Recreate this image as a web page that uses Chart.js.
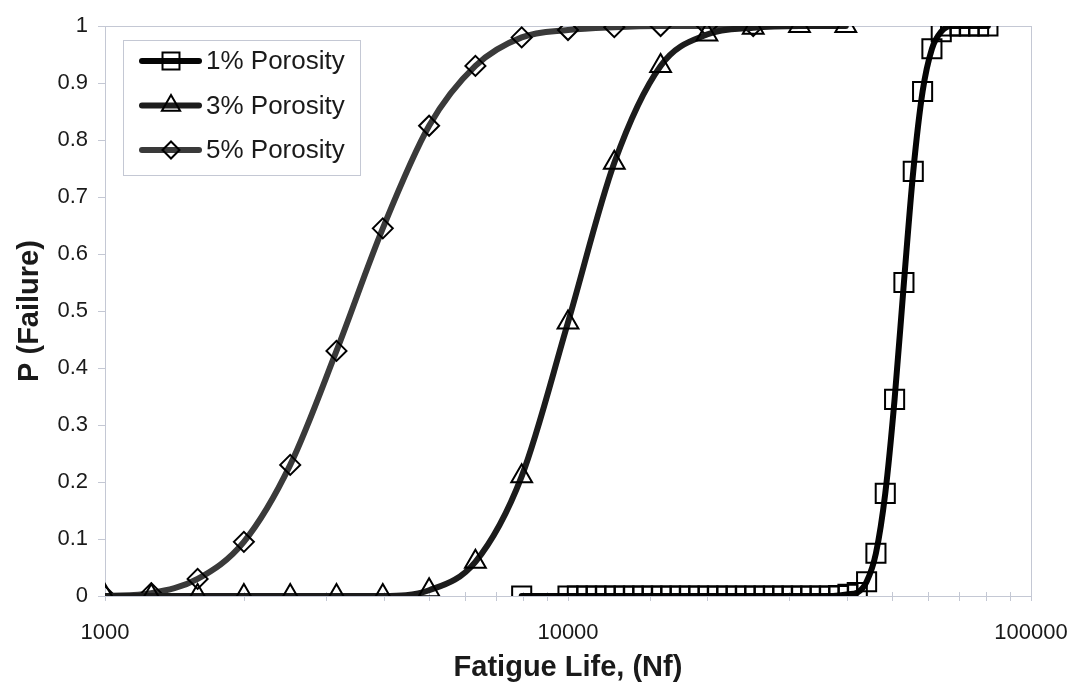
<!DOCTYPE html>
<html>
<head>
<meta charset="utf-8">
<title>Fatigue life distribution</title>
<script src="https://cdn.jsdelivr.net/npm/chart.js@4/dist/chart.umd.min.js"></script>
<style>
  html, body { margin: 0; padding: 0; background: #ffffff; }
  #wrap { width: 1077px; height: 688px; }
</style>
</head>
<body>
<div id="wrap"><canvas id="chart" width="1077" height="688"></canvas></div>
<script>
// Fatigue life (cycles) and cumulative failure probability for each porosity level
const lifeTickLabels = [1000, 10000, 100000];

const life1 = [7943, 10000, 10475, 10973, 11494, 12040, 12612, 13211, 13838, 14495, 15184,
  15905, 16661, 17452, 18281, 19149, 20059, 21012, 22010, 23055, 24151, 25298, 26499, 27758,
  29077, 30458, 31904, 33420, 35007, 36670, 38412, 40237, 42148, 44150, 46247, 48444, 50745,
  53155, 55680, 58325, 61095, 63997, 67037, 70221, 73557, 77051, 80711];
const pFail1 = [0, 0, 0, 0, 0, 0, 0, 0, 0, 0, 0,
  0, 0, 0, 0, 0, 0, 0, 0, 0, 0, 0, 0, 0,
  0, 0, 0, 0, 0, 0, 0.001, 0.003, 0.006, 0.025, 0.075, 0.18, 0.345,
  0.55, 0.745, 0.885, 0.96, 0.99, 1, 1, 1, 1, 1];

const life3 = [1000, 1259, 1585, 1995, 2512, 3162, 3981, 5012, 6310, 7943, 10000, 12589,
  15849, 19953, 25119, 31623, 39811];
const pFail3 = [0, 0, 0, 0, 0, 0, 0, 0.01, 0.06, 0.21, 0.48, 0.76,
  0.93, 0.985, 0.997, 1, 1];

const life5 = [1000, 1259, 1585, 1995, 2512, 3162, 3981, 5012, 6310, 7943, 10000, 12589,
  15849, 19953, 25119];
const pFail5 = [0, 0.005, 0.03, 0.095, 0.23, 0.43, 0.645, 0.825, 0.93, 0.98, 0.993, 0.998,
  1, 1, 1];

const seriesNames = ['1% Porosity', '3% Porosity', '5% Porosity'];

const FONT = '"Liberation Sans", Arial, Helvetica, sans-serif';
const TEXT = '#1a1a1a';
const FRAME = '#c4c8d4';

function toPoints(xs, ys) {
  return xs.map((x, i) => ({ x: x, y: ys[i] }));
}

// Outline-only marker shapes, shared by the plot and the legend
function drawMarker(ctx, style, r, x, y) {
  ctx.beginPath();
  if (style === 'rect') {
    const s = Math.SQRT1_2 * r;
    ctx.rect(x - s, y - s, 2 * s, 2 * s);
  } else if (style === 'triangle') {
    ctx.moveTo(x, y - r);
    ctx.lineTo(x + 0.866 * r, y + 0.5 * r);
    ctx.lineTo(x - 0.866 * r, y + 0.5 * r);
    ctx.closePath();
  } else {
    ctx.moveTo(x - r, y);
    ctx.lineTo(x, y - r);
    ctx.lineTo(x + r, y);
    ctx.lineTo(x, y + r);
    ctx.closePath();
  }
  ctx.stroke();
}

// Plot frame and the small axis tick marks
const frameAndTicks = {
  id: 'frameAndTicks',
  beforeDatasetsDraw(chart) {
    const { ctx, chartArea: a, scales } = chart;
    ctx.save();
    ctx.strokeStyle = FRAME;
    ctx.lineWidth = 1;
    ctx.strokeRect(Math.round(a.left) + 0.5, Math.round(a.top) + 0.5,
      Math.round(a.right - a.left), Math.round(a.bottom - a.top));
    ctx.beginPath();
    scales.y.ticks.forEach(t => {
      const py = Math.round(scales.y.getPixelForValue(t.value)) + 0.5;
      ctx.moveTo(a.left - 7, py);
      ctx.lineTo(a.left, py);
    });
    scales.x.ticks.forEach(t => {
      const px = Math.round(scales.x.getPixelForValue(t.value)) + 0.5;
      ctx.moveTo(px, a.bottom - 4);
      ctx.lineTo(px, a.bottom + 5);
    });
    ctx.stroke();
    ctx.restore();
  }
};

// Legend box inside the plot, line sample with marker
const insetLegend = {
  id: 'insetLegend',
  afterDraw(chart) {
    const ctx = chart.ctx;
    const sizes = [12, 10.5, 8.5];
    ctx.save();
    ctx.fillStyle = '#ffffff';
    ctx.fillRect(123, 40, 237, 135);
    ctx.strokeStyle = FRAME;
    ctx.lineWidth = 1;
    ctx.strokeRect(123.5, 40.5, 237, 135);
    chart.data.datasets.forEach((ds, i) => {
      const y = 61 + i * 44.5;
      ctx.strokeStyle = ds.borderColor;
      ctx.lineWidth = ds.borderWidth;
      ctx.lineCap = 'round';
      ctx.beginPath();
      ctx.moveTo(142, y);
      ctx.lineTo(199, y);
      ctx.stroke();
      ctx.lineCap = 'butt';
      ctx.strokeStyle = '#000000';
      ctx.lineWidth = 2;
      drawMarker(ctx, ds.pointStyle, sizes[i], 171, y);
      ctx.fillStyle = TEXT;
      ctx.font = '26px ' + FONT;
      ctx.textBaseline = 'middle';
      ctx.textAlign = 'left';
      ctx.fillText(ds.label, 206, y + 1);
    });
    ctx.restore();
  }
};

const common = {
  showLine: true,
  fill: false,
  borderWidth: 6,
  borderCapStyle: 'round',
  borderJoinStyle: 'round',
  cubicInterpolationMode: 'monotone',
  pointBackgroundColor: 'rgba(0,0,0,0)',
  pointBorderColor: '#000000',
  pointBorderWidth: 2,
  pointHoverRadius: 0
};

new Chart(document.getElementById('chart'), {
  type: 'scatter',
  data: {
    datasets: [
      Object.assign({}, common, {
        label: seriesNames[0],
        data: toPoints(life1, pFail1),
        borderColor: '#050505',
        pointStyle: 'rect',
        pointRadius: 13.5
      }),
      Object.assign({}, common, {
        label: seriesNames[1],
        data: toPoints(life3, pFail3),
        borderColor: '#1c1c1c',
        pointStyle: 'triangle',
        pointRadius: 12
      }),
      Object.assign({}, common, {
        label: seriesNames[2],
        data: toPoints(life5, pFail5),
        borderColor: '#3a3a3a',
        pointStyle: 'rectRot',
        pointRadius: 10
      })
    ]
  },
  options: {
    responsive: false,
    animation: false,
    devicePixelRatio: 1,
    layout: { padding: { left: 0, top: 26, right: 46, bottom: 0 } },
    plugins: {
      legend: { display: false },
      tooltip: { enabled: false }
    },
    scales: {
      x: {
        type: 'logarithmic',
        min: 1000,
        max: 100000,
        afterFit(scale) {
          scale.height = 92;
          scale.paddingLeft = 0;
          scale.paddingRight = 0;
        },
        grid: { display: false, drawTicks: false },
        border: { display: false },
        ticks: {
          autoSkip: false,
          maxRotation: 0,
          padding: 24,
          color: TEXT,
          font: { family: FONT, size: 22 },
          callback(value) {
            return lifeTickLabels.includes(value) ? String(value) : '';
          }
        },
        title: {
          display: true,
          text: 'Fatigue Life, (Nf)',
          color: TEXT,
          font: { family: FONT, size: 29, weight: 'bold' },
          padding: { top: 0, bottom: 3 }
        }
      },
      y: {
        min: 0,
        max: 1,
        afterFit(scale) {
          scale.width = 105;
          scale.paddingTop = 0;
          scale.paddingBottom = 0;
        },
        grid: { display: false, drawTicks: false },
        border: { display: false },
        ticks: {
          stepSize: 0.1,
          padding: 17,
          color: TEXT,
          font: { family: FONT, size: 22 },
          callback(value) {
            return String(Math.round(value * 10) / 10);
          }
        },
        title: {
          display: true,
          text: 'P (Failure)',
          color: TEXT,
          font: { family: FONT, size: 29, weight: 'bold' },
          padding: { top: 13, bottom: 0 }
        }
      }
    }
  },
  plugins: [frameAndTicks, insetLegend]
});
</script>
</body>
</html>
